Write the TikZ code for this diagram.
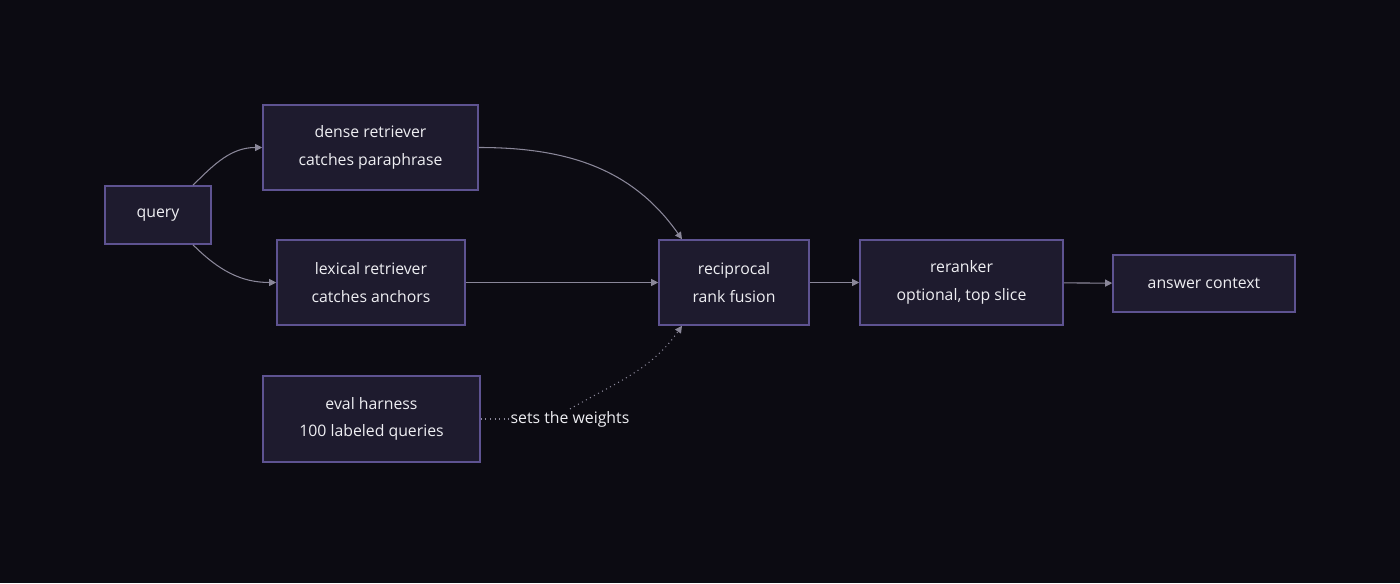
\documentclass[tikz,border=0pt]{standalone}
\usepackage{fontspec}
\setmainfont{Open Sans}
\usetikzlibrary{arrows.meta}
\definecolor{bgdark}{HTML}{0C0B12}
\definecolor{boxfill}{HTML}{1E1B2E}
\definecolor{boxline}{HTML}{5E5391}
\definecolor{edgegray}{HTML}{8A8799}
\definecolor{textlight}{HTML}{EEEEF2}

\tikzset{
  stage/.style={draw=boxline, fill=boxfill, line width=0.9pt, text=textlight,
    font=\fontsize{9}{15.5}\selectfont, align=center, inner sep=0pt},
  flow/.style={draw=edgegray, line width=0.6pt, -{Triangle[length=4pt,width=4pt]}},
  hint/.style={flow, dotted}
}

\begin{document}
\begin{tikzpicture}
	\fill[bgdark] (0,0) rectangle (28,11.66);
	\useasboundingbox (0,0) rectangle (28,11.66);
	\node[stage, minimum width=2.12cm, minimum height=1.16cm] (query) at (3.16,7.36) {query};
	\node[stage, minimum width=4.3cm, minimum height=1.7cm] (dense) at (7.41,8.71) {dense retriever\\catches paraphrase};
	\node[stage, minimum width=3.76cm, minimum height=1.7cm] (lexical) at (7.42,6.01) {lexical retriever\\catches anchors};
	\node[stage, minimum width=4.34cm, minimum height=1.72cm] (eval) at (7.43,3.28) {eval harness\\100 labeled queries};
	\node[stage, minimum width=3.0cm, minimum height=1.7cm] (fusion) at (14.68,6.01) {reciprocal\\rank fusion};
	\node[stage, minimum width=4.06cm, minimum height=1.7cm] (rerank) at (19.23,6.01) {reranker\\optional, top slice};
	\node[stage, minimum width=3.64cm, minimum height=1.14cm] (answer) at (24.08,5.99) {answer context};
	% connectors
	\draw[flow] ([xshift=0.7cm]query.north) to[out=45,in=180] (dense.west);
	\draw[flow] ([xshift=0.7cm]query.south) to[out=-45,in=180] (lexical.west);
	\draw[flow] (dense.east) to[out=0,in=125] ([xshift=-1.04cm]fusion.north);
	\draw[flow] (lexical) -- (fusion);
	\draw[flow] (fusion) -- (rerank);
	\draw[flow] (rerank) -- (answer);
	\node[text=textlight, font=\fontsize{9}{11}\selectfont, fill=bgdark, inner sep=1pt] (weights) at (11.4,3.28) {sets the weights};
	\draw[draw=edgegray, line width=0.6pt, dotted] (eval.east) -- (weights.west);
	\draw[hint] (weights.north) to[out=30,in=-125] ([xshift=-1.04cm]fusion.south);
\end{tikzpicture}
\end{document}
